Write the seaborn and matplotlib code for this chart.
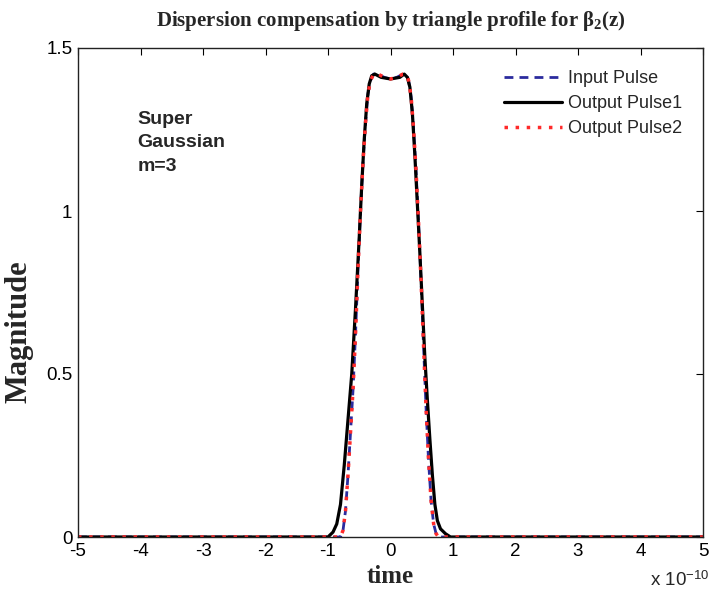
import numpy as np
import pandas as pd
import matplotlib
matplotlib.use("Agg")
import matplotlib.pyplot as plt
import seaborn as sns

# ---- data (time in units of 1e-10 s) ----
t_input = [-5.0, -2.0, -1.0, -0.80, -0.76, -0.72, -0.68, -0.64, -0.60, -0.56, -0.52, -0.48,
           -0.44, -0.40, -0.36, -0.32, -0.27, -0.20, -0.10, 0.0, 0.10, 0.20, 0.25,
           0.29, 0.33, 0.37, 0.41, 0.45, 0.49, 0.53, 0.57, 0.61, 0.65, 0.69, 0.73, 0.77,
           1.0, 2.0, 5.0]
m_input = [0.0, 0.0, 0.0, 0.0, 0.02, 0.08, 0.19, 0.32, 0.45, 0.62, 0.82, 1.00,
           1.15, 1.27, 1.36, 1.40, 1.42, 1.42, 1.41, 1.405, 1.41, 1.42, 1.42,
           1.40, 1.35, 1.25, 1.12, 0.96, 0.78, 0.58, 0.39, 0.23, 0.11, 0.04, 0.01, 0.0,
           0.0, 0.0, 0.0]

t_out1 = [-5.0, -2.0, -1.0, -0.92, -0.86, -0.80, -0.74, -0.68, -0.62, -0.56, -0.50, -0.46,
          -0.42, -0.38, -0.34, -0.30, -0.25, -0.15, 0.0, 0.15, 0.22, 0.27, 0.31, 0.35,
          0.39, 0.43, 0.47, 0.51, 0.55, 0.59, 0.63, 0.67, 0.71, 0.75, 0.80, 0.88, 0.96,
          2.0, 5.0]
m_out1 = [0.0, 0.0, 0.0, 0.015, 0.04, 0.10, 0.22, 0.36, 0.50, 0.70, 0.92, 1.08,
          1.22, 1.33, 1.39, 1.415, 1.42, 1.41, 1.405, 1.41, 1.42, 1.41, 1.38, 1.30,
          1.17, 1.02, 0.87, 0.71, 0.55, 0.42, 0.30, 0.19, 0.10, 0.05, 0.025, 0.01, 0.0,
          0.0, 0.0]

t_out2 = list(t_input)
m_out2 = list(m_input)

series_labels = ["Input Pulse", "Output Pulse1", "Output Pulse2"]

df = pd.concat([
    pd.DataFrame({"t": t_input, "m": m_input, "s": series_labels[0]}),
    pd.DataFrame({"t": t_out1, "m": m_out1, "s": series_labels[1]}),
    pd.DataFrame({"t": t_out2, "m": m_out2, "s": series_labels[2]}),
])

sns.set_style("white")
plt.rcParams["font.family"] = ["Liberation Sans", "DejaVu Sans"]
plt.rcParams["axes.unicode_minus"] = False
plt.rcParams["mathtext.fontset"] = "custom"
plt.rcParams["mathtext.rm"] = "Liberation Serif:bold"
plt.rcParams["mathtext.it"] = "Liberation Serif:bold"
plt.rcParams["mathtext.bf"] = "Liberation Serif:bold"
plt.rcParams["mathtext.sf"] = "Liberation Sans"

fig = plt.figure(figsize=(7.11, 5.96), dpi=100)
ax = fig.add_axes([78/711, 1-537/596, (703-78)/711, (537-48)/596])

styles = {
    series_labels[0]: dict(color="#2b2b9e", linestyle=(0, (3.2, 2.2)), linewidth=2.0),
    series_labels[1]: dict(color="black", linestyle="-", linewidth=2.3),
    series_labels[2]: dict(color="#ff2a2a", linestyle=(0, (1.0, 2.2)), linewidth=2.5),
}
for lab in series_labels:
    sub = df[df["s"] == lab]
    sns.lineplot(data=sub, x="t", y="m", ax=ax, label=lab, sort=False,
                 estimator=None, **styles[lab])

ax.set_xlim(-5, 5)
ax.set_ylim(0, 1.5)
ax.set_xticks(np.arange(-5, 6, 1))
ax.set_yticks([0, 0.5, 1, 1.5])
ax.set_yticklabels(["0", "0.5", "1", "1.5"])
ax.tick_params(direction="in", length=5, width=0.8, top=True, right=True,
               labelsize=13.5, pad=4, colors="black")
for sp in ax.spines.values():
    sp.set_linewidth(1.0)
    sp.set_color("#222222")

ax.set_xlabel("time", fontfamily="Liberation Serif", fontweight="bold", fontsize=18, labelpad=4)
ax.set_ylabel("Magnitude", fontfamily="Liberation Serif", fontweight="bold", fontsize=22)
ax.yaxis.set_label_coords(-0.072, 0.42)
ax.set_title(r"Dispersion compensation by triangle profile for $\beta_2$(z)",
             fontfamily="Liberation Serif", fontweight="bold", fontsize=15, pad=16)

ax.text(0.095, 0.872, "Super\nGaussian\nm=3", transform=ax.transAxes, fontsize=14,
        fontweight="bold", va="top", ha="left", linespacing=1.5)

fig.text(650/711, 1-580/596, r"x 10$^{\mathsf{-10}}$", fontsize=13.5, va="center", ha="left")

leg = ax.legend(loc="upper right", frameon=False, fontsize=13, handlelength=3.2,
                borderaxespad=0.5, labelspacing=0.45, handletextpad=0.3,
                bbox_to_anchor=(0.992, 0.988))

fig.savefig("out.png", dpi=100)
